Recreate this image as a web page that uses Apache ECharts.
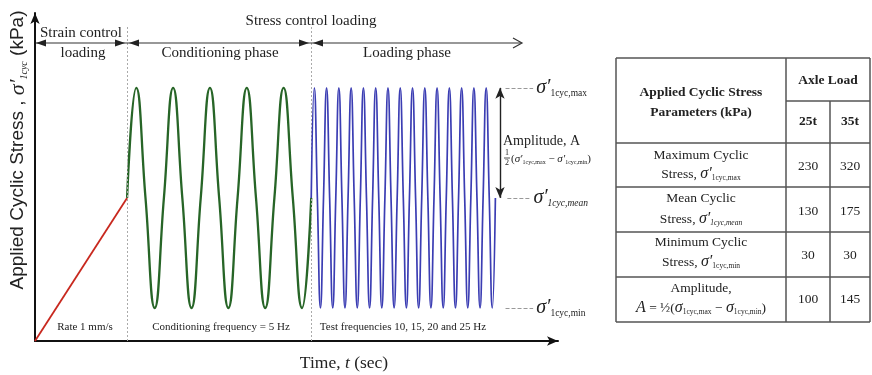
<!DOCTYPE html>
<html><head><meta charset="utf-8">
<script src="https://cdn.jsdelivr.net/npm/echarts@6/dist/echarts.min.js"></script>
<style>html,body{margin:0;padding:0;background:#fff}#c{width:872px;height:375px}</style>
</head><body><div id="c"></div>
<script>
// ---- Data (time in s, stress in kPa) ----
const rampTime = [0, 0.5];
const rampStress = [0, 130];
const conditioningTime = [0.5,0.55,0.6,0.65,0.7,0.75,0.8,0.85,0.9,0.95,1.0,1.05,1.1,1.15,1.2,1.25,1.3,1.35,1.4,1.45,1.5];
const conditioningStress = [130,230,130,30,130,230,130,30,130,230,130,30,130,230,130,30,130,230,130,30,130];
const loadingTime = [1.5,1.5167,1.5333,1.55,1.5667,1.5833,1.6,1.6167,1.6333,1.65,1.6667,1.6833,1.7,1.7167,1.7333,1.75,1.7667,1.7833,1.8,1.8167,1.8333,1.85,1.8667,1.8833,1.9,1.9167,1.9333,1.95,1.9667,1.9833,2.0,2.0167,2.0333,2.05,2.0667,2.0833,2.1,2.1167,2.1333,2.15,2.1667,2.1833,2.2,2.2167,2.2333,2.25,2.2667,2.2833,2.3,2.3167,2.3333,2.35,2.3667,2.3833,2.4,2.4167,2.4333,2.45,2.4667,2.4833,2.5];
const loadingStress = [130,230,130,30,130,230,130,30,130,230,130,30,130,230,130,30,130,230,130,30,130,230,130,30,130,230,130,30,130,230,130,30,130,230,130,30,130,230,130,30,130,230,130,30,130,230,130,30,130,230,130,30,130,230,130,30,130,230,130,30,130];
const phaseBoundaries = [0.5, 1.5];
const stressLevels = {max: 230, mean: 130, min: 30};
// Table
const axleLoads = ['25t', '35t'];
const tableMax = [230, 320];
const tableMean = [130, 175];
const tableMin = [30, 30];
const tableAmplitude = [100, 145];

const SERIF = '"Liberation Serif", "Times New Roman", serif';
const SANS = '"Liberation Sans", Arial, sans-serif';
const zip = (a, b) => a.map((v, i) => [v, b[i]]);

const sigRich = {
  s: {fontFamily: SERIF, fontStyle: 'italic', fontSize: 20, color: '#222'},
  sub: {fontFamily: SERIF, fontSize: 9.5, color: '#222', padding: [12, 0, 0, 0]},
  subi: {fontFamily: SERIF, fontStyle: 'italic', fontSize: 9.5, color: '#222', padding: [12, 0, 0, 0]}
};

function txt(x, y, text, size, extra) {
  return {type: 'text', x: x, y: y, silent: true, z: 10,
    style: Object.assign({text: text, fontSize: size, fontFamily: SERIF, fill: '#222',
      align: 'center', verticalAlign: 'middle', textAlign: 'center', textVerticalAlign: 'middle'}, extra || {})};
}
function line(x1, y1, x2, y2, stroke, w) {
  return {type: 'line', silent: true, z: 10, shape: {x1, y1, x2, y2}, style: {stroke: stroke, lineWidth: w}};
}
function tri(pts) {
  return {type: 'polygon', silent: true, z: 10, shape: {points: pts}, style: {fill: '#222'}};
}

const g = [];
// top phase arrows
const AY = 43;
g.push(line(36, AY, 521, AY, '#333', 1.2));
g.push(tri([[36, AY], [46, AY - 3.5], [46, AY + 3.5]]));
g.push(tri([[125, AY], [115, AY - 3.5], [115, AY + 3.5]]));
g.push(tri([[129, AY], [139, AY - 3.5], [139, AY + 3.5]]));
g.push(tri([[309, AY], [299, AY - 3.5], [299, AY + 3.5]]));
g.push(tri([[313, AY], [323, AY - 3.5], [323, AY + 3.5]]));
g.push({type: 'polyline', silent: true, z: 10, shape: {points: [[513, AY - 5], [522, AY], [513, AY + 5]]}, style: {stroke: '#333', lineWidth: 1.2, fill: null}});
g.push(txt(81, 33, 'Strain control', 15));
g.push(txt(83, 53, 'loading', 15));
g.push(txt(311, 21, 'Stress control loading', 15));
g.push(txt(220, 53, 'Conditioning phase', 15));
g.push(txt(407, 53, 'Loading phase', 15));
g.push(txt(85, 327, 'Rate 1 mm/s', 11));
g.push(txt(221, 327, 'Conditioning frequency = 5 Hz', 11));
g.push(txt(403, 327, 'Test frequencies 10, 15, 20 and 25 Hz', 11));
g.push(txt(344, 363, '{n|Time, }{i|t}{n| (sec)}', 17, {rich: {
  n: {fontFamily: SERIF, fontSize: 17.5, color: '#222'},
  i: {fontFamily: SERIF, fontSize: 17.5, fontStyle: 'italic', color: '#222'}}}));
// y axis title
g.push({type: 'text', x: 18, y: 150, rotation: Math.PI / 2, silent: true, z: 10,
  style: {text: '{n|Applied Cyclic Stress , }{s|σ′}{sub|1cyc}{n| (kPa)}', fontSize: 19, fontFamily: SANS, fill: '#222',
    align: 'center', verticalAlign: 'middle', textAlign: 'center', textVerticalAlign: 'middle',
    rich: {n: {fontFamily: SANS, fontSize: 19, color: '#222'},
      s: {fontFamily: SERIF, fontStyle: 'italic', fontSize: 22, color: '#222'},
      sub: {fontFamily: SERIF, fontStyle: 'italic', fontSize: 10, color: '#222', padding: [12, 0, 0, 0]}}}});
// amplitude annotation
g.push(txt(503, 141, 'Amplitude, A', 14, {align: 'left', textAlign: 'left'}));
g.push(txt(507, 153, '1', 8));
g.push(line(504, 158, 510, 158, '#222', 0.8));
g.push(txt(507, 163, '2', 8));
g.push(txt(511, 159, '{n|(}{s|σ′}{sub|1cyc,max}{n| − }{s|σ′}{sub|1cyc,min}{n|)}', 11, {align: 'left', textAlign: 'left', rich: {
  n: {fontFamily: SERIF, fontSize: 11, color: '#222'},
  s: {fontFamily: SERIF, fontStyle: 'italic', fontSize: 11, color: '#222'},
  sub: {fontFamily: SERIF, fontSize: 6, color: '#222', padding: [6, 0, 0, 0]}}}));

// table
const TX = [616, 786, 830, 870];
const TY = [58, 101, 143, 187, 232, 277, 322];
const TC = '#555';
g.push(line(TX[0], TY[0], TX[3], TY[0], TC, 1.5));
g.push(line(TX[1], TY[1], TX[3], TY[1], TC, 1.5));
for (let i = 2; i < TY.length; i++) g.push(line(TX[0], TY[i], TX[3], TY[i], TC, 1.5));
g.push(line(TX[0], TY[0], TX[0], TY[6], TC, 1.5));
g.push(line(TX[1], TY[0], TX[1], TY[6], TC, 1.5));
g.push(line(TX[2], TY[1], TX[2], TY[6], TC, 1.5));
g.push(line(TX[3], TY[0], TX[3], TY[6], TC, 1.5));
const lc = (TX[0] + TX[1]) / 2, c1 = (TX[1] + TX[2]) / 2, c2 = (TX[2] + TX[3]) / 2;
const bold = {fontWeight: 'bold'};
g.push(txt(lc, 93, 'Applied Cyclic Stress', 13.5, bold));
g.push(txt(lc, 113, 'Parameters (kPa)', 13.5, bold));
g.push(txt((TX[1] + TX[3]) / 2, 81, 'Axle Load', 13.5, bold));
g.push(txt(c1, 122, axleLoads[0], 13.5, bold));
g.push(txt(c2, 122, axleLoads[1], 13.5, bold));
const rowRich = {
  n: {fontFamily: SERIF, fontSize: 13.5, color: '#222'},
  s: {fontFamily: SERIF, fontStyle: 'italic', fontSize: 16, color: '#222'},
  sub: {fontFamily: SERIF, fontSize: 7.5, color: '#222', padding: [9, 0, 0, 0]},
  subi: {fontFamily: SERIF, fontStyle: 'italic', fontSize: 7.5, color: '#222', padding: [9, 0, 0, 0]}
};
const rows = [
  {l1: 'Maximum Cyclic', l2: '{n|Stress, }{s|σ′}{sub|1cyc,max}', y1: 155, y2: 174, vy: 166, v: tableMax},
  {l1: 'Mean Cyclic', l2: '{n|Stress, }{s|σ′}{subi|1cyc,mean}', y1: 198, y2: 219, vy: 211, v: tableMean},
  {l1: 'Minimum Cyclic', l2: '{n|Stress, }{s|σ′}{sub|1cyc,min}', y1: 242, y2: 262, vy: 255, v: tableMin},
  {l1: 'Amplitude,', l2: '{s|A}{n| = ½(}{s|σ}{sub|1cyc,max}{n| − }{s|σ}{sub|1cyc,min}{n|)}', y1: 288, y2: 308, vy: 299, v: tableAmplitude}
];
rows.forEach(r => {
  g.push(txt(lc, r.y1, r.l1, 13.5));
  g.push(txt(lc, r.y2, r.l2, 13.5, {rich: rowRich}));
  g.push(txt(c1, r.vy, String(r.v[0]), 13.5));
  g.push(txt(c2, r.vy, String(r.v[1]), 13.5));
});

const chart = echarts.init(document.getElementById('c'), null, {renderer: 'canvas'});
const axisCommon = {
  type: 'value',
  axisLine: {show: true, onZero: false, lineStyle: {color: '#111', width: 2}, symbol: ['none', 'arrow'], symbolSize: [7, 11]},
  axisTick: {show: false}, axisLabel: {show: false}, splitLine: {show: false}
};
const dashStyle = {type: 'dashed', color: '#999', width: 1};
chart.setOption({
  animation: false,
  backgroundColor: '#fff',
  grid: {left: 35, right: 314, top: 13, bottom: 34},
  xAxis: Object.assign({}, axisCommon, {min: 0, max: 2.84}),
  yAxis: Object.assign({}, axisCommon, {min: 0, max: 298}),
  series: [
    {type: 'line', name: 'Strain control', data: zip(rampTime, rampStress), symbol: 'none',
      lineStyle: {color: '#c8281e', width: 1.8}, z: 3,
      markLine: {silent: true, symbol: 'none', label: {show: false},
        lineStyle: {type: [2, 2], color: '#aaa', width: 1},
        data: phaseBoundaries.map(t => [{coord: [t, 0]}, {coord: [t, 287]}])}},
    {type: 'line', name: 'Conditioning', data: zip(conditioningTime, conditioningStress), symbol: 'none', smooth: 0.5,
      lineStyle: {color: '#276527', width: 2.3}, z: 4,
      markLine: {silent: true, symbol: ['arrow', 'arrow'], symbolSize: [7, 11], label: {show: false},
        lineStyle: {type: 'solid', color: '#222', width: 1.4},
        data: [[{coord: [2.525, stressLevels.max]}, {coord: [2.525, stressLevels.mean]}]]}},
    {type: 'line', name: 'Loading', data: zip(loadingTime, loadingStress), symbol: 'none', smooth: 0.5,
      lineStyle: {color: '#3b3db3', width: 1.7}, z: 5,
      markLine: {silent: true, symbol: 'none', lineStyle: dashStyle,
        label: {show: true, position: 'end', distance: 3, rich: sigRich},
        data: [
          [{coord: [2.555, stressLevels.max]}, {coord: [2.705, stressLevels.max], label: {formatter: '{s|σ′}{sub|1cyc,max}'}}],
          [{coord: [2.565, stressLevels.mean]}, {coord: [2.69, stressLevels.mean], label: {formatter: '{s|σ′}{subi|1cyc,mean}'}}],
          [{coord: [2.555, stressLevels.min]}, {coord: [2.705, stressLevels.min], label: {formatter: '{s|σ′}{sub|1cyc,min}'}}]
        ]}}
  ],
  graphic: g
});
</script></body></html>
